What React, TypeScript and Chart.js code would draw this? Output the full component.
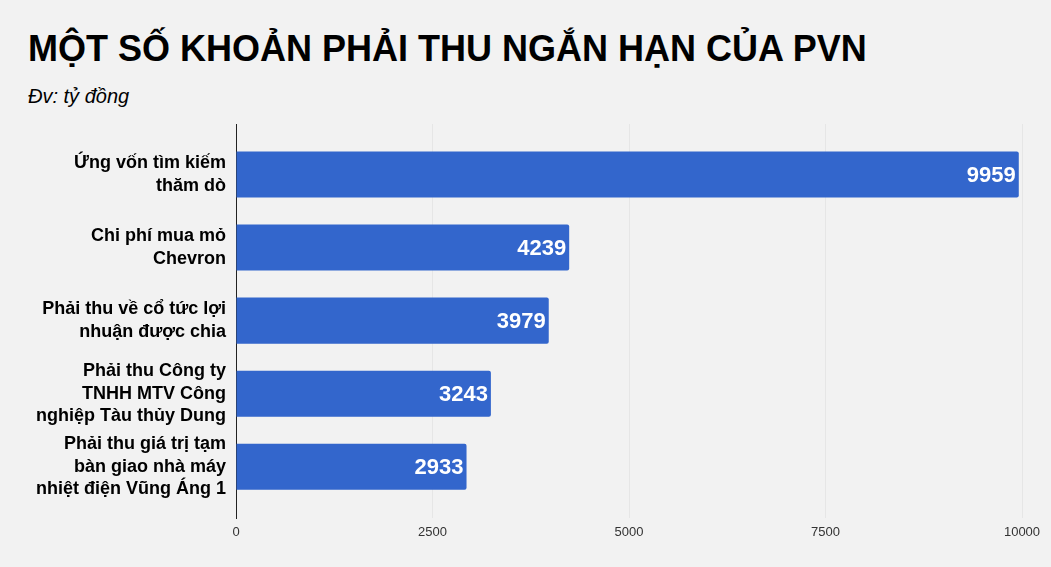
import React, { useEffect, useRef } from "react";
import { Chart, registerables } from "chart.js";

Chart.register(...registerables);

const TITLE = "MỘT SỐ KHOẢN PHẢI THU NGẮN HẠN CỦA PVN";
const SUBTITLE = "Đv: tỷ đồng";

const categories: string[][] = [
  ["Ứng vốn tìm kiếm", "thăm dò"],
  ["Chi phí mua mỏ", "Chevron"],
  ["Phải thu về cổ tức lợi", "nhuận được chia"],
  ["Phải thu Công ty", "TNHH MTV Công", "nghiệp Tàu thủy Dung"],
  ["Phải thu giá trị tạm", "bàn giao nhà máy", "nhiệt điện Vũng Áng 1"],
];
const values: number[] = [9959, 4239, 3979, 3243, 2933];
const xTicks: number[] = [0, 2500, 5000, 7500, 10000];

const FONT = "'Liberation Sans', Arial, sans-serif";

const valueLabelPlugin = {
  id: "valueLabels",
  afterDatasetsDraw(chart: any) {
    const ctx = chart.ctx;
    const meta = chart.getDatasetMeta(0);
    ctx.save();
    ctx.font = `bold 22px ${FONT}`;
    ctx.fillStyle = "#ffffff";
    ctx.textAlign = "right";
    ctx.textBaseline = "middle";
    meta.data.forEach((el: any, i: number) => {
      ctx.fillText(String(values[i]), el.x - 3, el.y + 1);
    });
    ctx.restore();
  },
};

export default function App() {
  const ref = useRef<HTMLCanvasElement | null>(null);

  useEffect(() => {
    document.body.style.background = "#f2f2f2";
    const canvas = ref.current!;
    const chart = new Chart(canvas, {
      type: "bar",
      data: {
        datasets: [
          {
            data: values.map((v, i) => ({ x: v, y: i })),
            backgroundColor: "#3366cc",
            borderRadius: 2,
            barPercentage: 0.63,
            categoryPercentage: 1,
          },
        ],
      },
      plugins: [valueLabelPlugin],
      options: {
        indexAxis: "y",
        animation: false,
        responsive: false,
        maintainAspectRatio: false,
        layout: { padding: { top: 124, left: 0, right: 29, bottom: 0 } },
        plugins: {
          legend: { display: false },
          tooltip: { enabled: false },
          title: { display: false },
        },
        scales: {
          x: {
            type: "linear",
            min: 0,
            max: 10000,
            afterBuildTicks: (scale: any) => {
              scale.ticks = xTicks.map((v) => ({ value: v }));
            },
            afterFit: (scale: any) => {
              scale.height = 49;
            },
            grid: { color: "#e6e6e6", drawTicks: false },
            border: { display: false },
            ticks: {
              padding: 7,
              color: "#333333",
              font: { family: FONT, size: 13 },
              callback: (v: any) => String(v),
            },
          },
          y: {
            type: "linear",
            reverse: true,
            offset: false,
            min: -0.69,
            max: 4.7,
            afterBuildTicks: (scale: any) => {
              scale.ticks = categories.map((_, i) => ({ value: i }));
            },
            afterFit: (scale: any) => {
              scale.width = 236;
            },
            grid: { display: false, drawTicks: false, offset: false },
            border: { display: true, color: "#222222", width: 1 },
            ticks: {
              padding: 10,
              color: "#000000",
              font: { family: FONT, size: 18, weight: "bold", lineHeight: 1.25 },
              callback: (v: any) => categories[v as number],
            },
          },
        },
      },
    });
    return () => chart.destroy();
  }, []);

  return (
    <div
      style={{
        position: "absolute",
        left: 0,
        top: 0,
        width: 1051,
        height: 567,
        background: "#f2f2f2",
        overflow: "hidden",
      }}
    >
      <div
        style={{
          position: "absolute",
          left: 28,
          top: 27,
          fontFamily: FONT,
          fontWeight: "bold",
          fontSize: 36,
          lineHeight: "43px",
          color: "#000",
          whiteSpace: "nowrap",
        }}
      >
        {TITLE}
      </div>
      <div
        style={{
          position: "absolute",
          left: 28,
          top: 84,
          fontFamily: FONT,
          fontStyle: "italic",
          fontSize: 20,
          lineHeight: "24px",
          color: "#000",
          whiteSpace: "nowrap",
        }}
      >
        {SUBTITLE}
      </div>
      <canvas
        ref={ref}
        width={1051}
        height={567}
        style={{ position: "absolute", left: 0, top: 0, width: 1051, height: 567 }}
      />
    </div>
  );
}
